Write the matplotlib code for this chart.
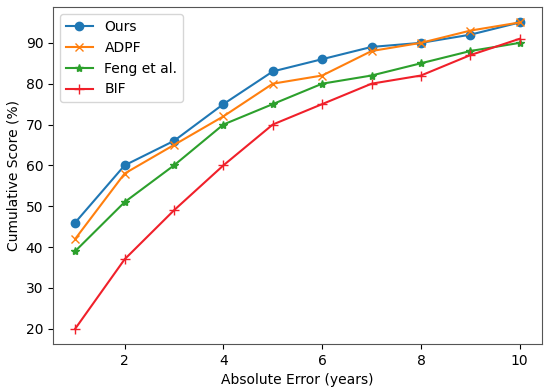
import matplotlib
matplotlib.use("Agg")
import matplotlib.pyplot as plt

x = [1, 2, 3, 4, 5, 6, 7, 8, 9, 10]
ours = [46, 60, 66, 75, 83, 86, 89, 90, 92, 95]
adpf = [42, 58, 65, 72, 80, 82, 88, 90, 93, 95]
feng = [39, 51, 60, 70, 75, 80, 82, 85, 88, 90]
bif = [20, 37, 49, 60, 70, 75, 80, 82, 87, 91]

fig = plt.figure(figsize=(5.5, 3.89), dpi=100)
ax = fig.add_axes([0.0964, 0.1157, 0.889, 0.866])

ax.plot(x, ours, marker='o', color='#1f77b4', label='Ours', markersize=6, linewidth=1.5)
ax.plot(x, adpf, marker='x', color='#ff7f0e', label='ADPF', markersize=6, linewidth=1.5)
ax.plot(x, feng, marker='*', color='#2ca02c', label='Feng et al.', markersize=6, linewidth=1.5)
ax.plot(x, bif, marker='+', color='#f0202a', label='BIF', markersize=7, linewidth=1.5)

ax.set_xticks([2, 4, 6, 8, 10])
ax.set_yticks([20, 30, 40, 50, 60, 70, 80, 90])
ax.tick_params(labelsize=10)
ax.set_xlabel('Absolute Error (years)', fontsize=10)
ax.set_ylabel('Cumulative Score (%)', fontsize=10)
for s in ax.spines.values():
    s.set_color('#555555')
ax.legend(loc='upper left', fontsize=10)

fig.savefig('out.png', dpi=100)
